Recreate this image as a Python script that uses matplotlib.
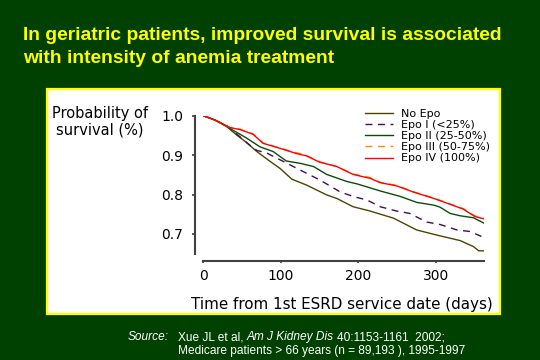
import matplotlib
matplotlib.use('Agg')
import matplotlib.pyplot as plt
from matplotlib.patches import Rectangle

# survival curves (days, probability)
days_no_epo = [0, 15, 28, 43, 55, 69, 84, 99, 114, 133, 159, 172, 193, 215, 245, 275, 301, 331, 348, 355, 361]
surv_no_epo = [1.0, 0.989, 0.976, 0.951, 0.933, 0.909, 0.887, 0.866, 0.839, 0.824, 0.799, 0.790, 0.769, 0.758, 0.740, 0.710, 0.697, 0.683, 0.668, 0.657, 0.657]

days_epo1 = [0, 15, 30, 47, 60, 69, 82, 99, 125, 150, 176, 193, 211, 228, 249, 266, 288, 305, 327, 344, 359]
surv_epo1 = [1.0, 0.989, 0.975, 0.947, 0.925, 0.912, 0.905, 0.888, 0.862, 0.837, 0.807, 0.795, 0.786, 0.769, 0.758, 0.752, 0.730, 0.724, 0.710, 0.706, 0.693]

days_epo2 = [0, 15, 34, 56, 73, 90, 107, 125, 142, 159, 185, 198, 228, 254, 275, 297, 305, 318, 331, 348, 362]
surv_epo2 = [1.0, 0.989, 0.968, 0.943, 0.921, 0.909, 0.885, 0.879, 0.871, 0.851, 0.833, 0.827, 0.809, 0.795, 0.780, 0.773, 0.768, 0.752, 0.746, 0.741, 0.727]

days_epo3 = [0, 15, 34, 47, 64, 77, 99, 120, 133, 150, 172, 193, 215, 228, 249, 271, 297, 314, 335, 350, 362]
surv_epo3 = [1.0, 0.989, 0.970, 0.966, 0.954, 0.931, 0.918, 0.906, 0.899, 0.883, 0.871, 0.852, 0.843, 0.831, 0.823, 0.807, 0.791, 0.779, 0.764, 0.746, 0.739]

days_epo4 = [0, 15, 34, 47, 64, 77, 99, 120, 133, 150, 172, 193, 215, 228, 249, 271, 297, 314, 335, 350, 362]
surv_epo4 = [1.0, 0.989, 0.970, 0.965, 0.953, 0.930, 0.917, 0.904, 0.898, 0.882, 0.871, 0.851, 0.841, 0.830, 0.822, 0.806, 0.790, 0.778, 0.763, 0.744, 0.738]

series_labels = ['No Epo', 'Epo I (<25%)', 'Epo II (25-50%)', 'Epo III (50-75%)', 'Epo IV (100%)']
series_colors = ['#4d4400', '#4b0a50', '#0a4d0a', '#ff8c00', '#ff0000']
series_styles = ['-', (0, (5, 4)), '-', (0, (5, 4)), '-']

x_ticks = [0, 100, 200, 300]
y_ticks = [0.7, 0.8, 0.9, 1.0]

W, H = 540, 360
bg = '#004000'

fig = plt.figure(figsize=(5.4, 3.6), dpi=100)
fig.patch.set_facecolor(bg)

# white panel with yellow border
fig.add_artist(Rectangle((47 / W, 1 - 314 / H), 453 / W, 225 / H, transform=fig.transFigure,
                         facecolor='white', edgecolor='#ffff00', lw=1.6, zorder=0))

title_font = dict(family='Liberation Sans', weight='bold', color='#ffff00', fontsize=13.9)
fig.text(22.7 / W, 1 - 39.5 / H, 'In geriatric patients, improved survival is associated', va='baseline', **title_font)
fig.text(22.7 / W, 1 - 63 / H, 'with intensity of anemia treatment', va='baseline', **title_font)

ax = fig.add_axes([203.3 / W, 1 - 253.6 / H, 280.9 / W, 137.9 / H])
ax.set_facecolor('none')

all_days = [days_no_epo, days_epo1, days_epo2, days_epo3, days_epo4]
all_surv = [surv_no_epo, surv_epo1, surv_epo2, surv_epo3, surv_epo4]
zorders = [3, 3, 3, 3, 4]
for d, s, lab, c, ls, z in zip(all_days, all_surv, series_labels, series_colors, series_styles, zorders):
    ax.plot(d, s, color=c, ls=ls, lw=1.0, label=lab, zorder=z)

ax.set_xlim(0, 362)
ax.set_ylim(0.65, 1.0)
ax.set_xticks(x_ticks)
ax.set_yticks(y_ticks)
ax.set_yticklabels([f'{v:.1f}' for v in y_ticks])
for side in ['top', 'right']:
    ax.spines[side].set_visible(False)
ax.spines['left'].set_position(('outward', 5.8))
ax.spines['bottom'].set_position(('outward', 5.3))
for side in ['left', 'bottom']:
    ax.spines[side].set_color('#404040')
    ax.spines[side].set_linewidth(1.5)
ax.tick_params(axis='y', direction='out', length=2.5, width=1.2, color='#404040', pad=6, labelsize=10)
ax.tick_params(axis='x', direction='out', length=1.5, width=1.2, color='#404040', pad=4.5, labelsize=10)

fig.text(100 / W, 1 - 122 / H, 'Probability of\nsurvival (%)', ha='center', va='center',
         fontsize=10.5, linespacing=1.15)
fig.text(342 / W, 1 - 304 / H, 'Time from 1st ESRD service date (days)', ha='center', va='center', fontsize=10.9)

ax.legend(loc='upper left', bbox_to_anchor=(365 / W, 1 - 109 / H), bbox_transform=fig.transFigure,
          frameon=False, fontsize=8, handlelength=2.5, handletextpad=0.7, labelspacing=0.1,
          borderpad=0, borderaxespad=0)

# source note, pieces chained so the journal name can be italic
renderer = fig.canvas.get_renderer()
src_font = dict(family='Liberation Sans', color='white', fontsize=8.6, va='center')
fig.text(128 / W, 1 - 337 / H, 'Source:', style='italic', **src_font)
x = 178 / W
for part, st in [('Xue JL et al, ', 'normal'), ('Am J Kidney Dis ', 'italic'), ('40:1153-1161  2002;', 'normal')]:
    t = fig.text(x, 1 - 337 / H, part, style=st, **src_font)
    x = t.get_window_extent(renderer).x1 / fig.bbox.width
fig.text(178 / W, 1 - 351 / H, 'Medicare patients > 66 years (n = 89,193 ), 1995-1997', **src_font)

fig.savefig('out.png', dpi=100, facecolor=bg)
